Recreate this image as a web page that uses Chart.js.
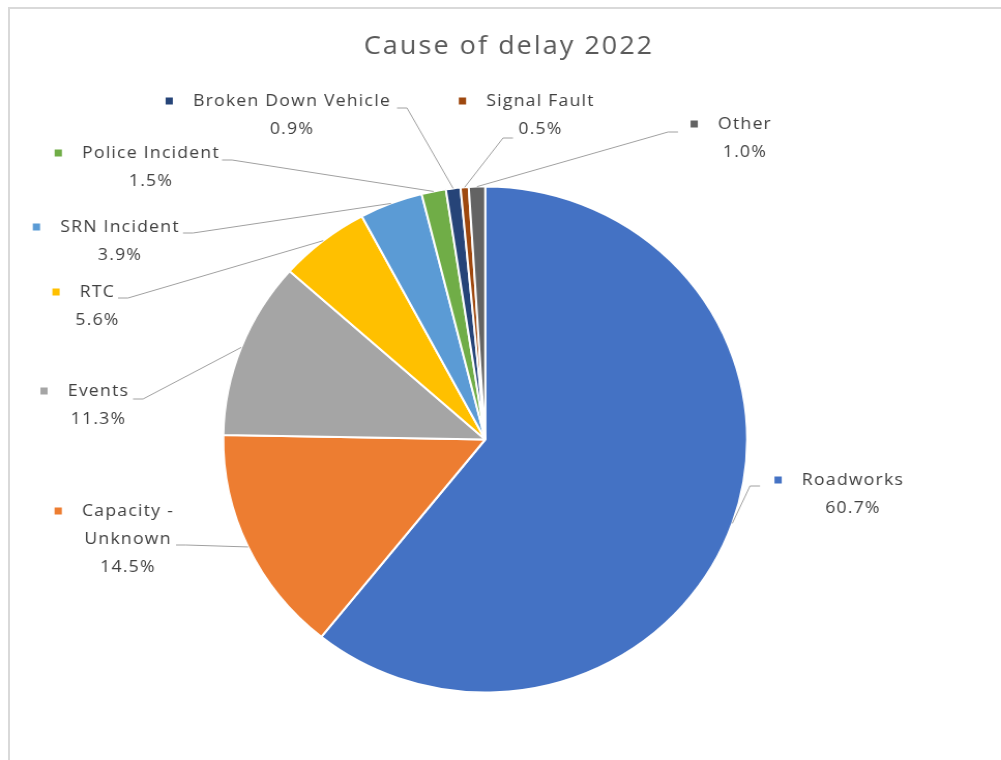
<!DOCTYPE html>
<html>
<head>
<meta charset="utf-8">
<title>Cause of delay 2022</title>
<script src="https://cdn.jsdelivr.net/npm/chart.js@4.4.1/dist/chart.umd.min.js"></script>
<style>
  html, body { margin: 0; padding: 0; background: #ffffff; overflow: hidden; }
  #frame { position: absolute; left: 8px; top: 7px; width: 1100px; height: 800px;
           border-left: 2px solid #d9d9d9; border-top: 2px solid #d9d9d9; }
  /* the reference picture is a little wider than tall, so stretch the canvas */
  #wrap { position: absolute; left: 0; top: 0; width: 967px; height: 760px;
          transform: scaleX(1.0352); transform-origin: 0 0; }
</style>
</head>
<body>
<div id="frame"></div>
<div id="wrap"><canvas id="PieChart" width="967" height="760"></canvas></div>
<script>
// Chart data
var chartTitle = 'Cause of delay 2022';
var causes = ['Roadworks', 'Capacity - Unknown', 'Events', 'RTC', 'SRN Incident',
              'Police Incident', 'Broken Down Vehicle', 'Signal Fault', 'Other'];
var percentOfDelay = [60.7, 14.5, 11.3, 5.6, 3.9, 1.5, 0.9, 0.5, 1.0];
var sliceColors = ['#4472C4', '#ED7D31', '#A5A5A5', '#FFC000', '#5B9BD5',
                   '#70AD47', '#264478', '#9E480E', '#636363'];

// Label layout, in pixels of the (stretched) picture
var SX = 1.0352;
var labelCenterX = [853, 128, 98.5, 97.5, 120, 151, 292, 540.5, 745];
var labelTopY = [480, 511, 391, 292, 227, 153, 101, 101, 124];
var labelWrap = [0, 110, 0, 0, 0, 0, 0, 0, 0];
var leaderStart = [[760, 486], [176, 545], [133, 399], [118, 298], [183, 233],
                   [222, 160], [397, 108], [513, 138], [678, 132]];
var lineGap = 28;

// Splits a label into lines no wider than maxW
function wrapText(ctx, text, maxW){
  if(!maxW) return [text];
  var words = text.split(' ');
  var lines = [];
  var cur = '';
  for(var i = 0; i < words.length; i++){
    var test = cur ? cur + ' ' + words[i] : words[i];
    if(cur && ctx.measureText(test).width > maxW){
      lines.push(cur);
      cur = words[i];
    } else {
      cur = test;
    }
  }
  lines.push(cur);
  return lines;
}

// Draws title, leader lines and data labels outside the pie
var outsideLabels = {
  id: 'outsideLabels',
  afterDraw: function(chart){
    var ctx = chart.ctx;
    var arcs = chart.getDatasetMeta(0).data;
    ctx.save();

    // Title
    ctx.font = '26px "Open Sans"';
    ctx.letterSpacing = '2px';
    ctx.fillStyle = '#595959';
    ctx.textAlign = 'center';
    ctx.textBaseline = 'middle';
    ctx.fillText(chartTitle, 509 / SX, 47);

    // Leader lines: short stub then straight to the middle of the slice edge
    ctx.strokeStyle = '#a0a0a0';
    ctx.lineWidth = 1;
    for(var i = 0; i < arcs.length; i++){
      var p = arcs[i].getProps(['x', 'y', 'startAngle', 'endAngle', 'outerRadius'], true);
      var mid = (p.startAngle + p.endAngle) / 2;
      var ex = p.x + Math.cos(mid) * p.outerRadius;
      var ey = p.y + Math.sin(mid) * p.outerRadius;
      var sx = leaderStart[i][0] / SX;
      var sy = leaderStart[i][1];
      var stub = (ex > sx ? 1 : -1) * 10 / SX;
      ctx.beginPath();
      ctx.moveTo(sx, sy);
      ctx.lineTo(sx + stub, sy);
      ctx.lineTo(ex, ey);
      ctx.stroke();
    }

    // Labels: marker + name, then value
    ctx.font = '17px "Open Sans"';
    ctx.letterSpacing = '1.2px';
    for(var i = 0; i < causes.length; i++){
      var lines = wrapText(ctx, causes[i], labelWrap[i]);
      lines.push(percentOfDelay[i].toFixed(1) + '%');
      var cx = labelCenterX[i] / SX;
      ctx.fillStyle = '#404040';
      for(var k = 0; k < lines.length; k++){
        ctx.fillText(lines[k], cx, labelTopY[i] + k * lineGap);
      }
      var w = ctx.measureText(lines[0]).width;
      var mx = cx - w / 2 - 23;
      ctx.fillStyle = sliceColors[i];
      ctx.fillRect(mx - 3.5, labelTopY[i] - 3.5, 7, 7);
    }
    ctx.restore();
  }
};

var pieChart = new Chart(document.getElementById('PieChart'), {
  type: 'pie',
  data: {
    labels: causes,
    datasets: [{
      data: percentOfDelay,
      backgroundColor: sliceColors,
      borderColor: '#ffffff',
      borderWidth: 2
    }]
  },
  options: {
    responsive: false,
    animation: false,
    layout: { padding: { top: 185.5, bottom: 66.5, left: 100, right: 129.6 } },
    plugins: {
      legend: { display: false },
      title: { display: false },
      tooltip: { enabled: false }
    }
  },
  plugins: [outsideLabels]
});
</script>
</body>
</html>
